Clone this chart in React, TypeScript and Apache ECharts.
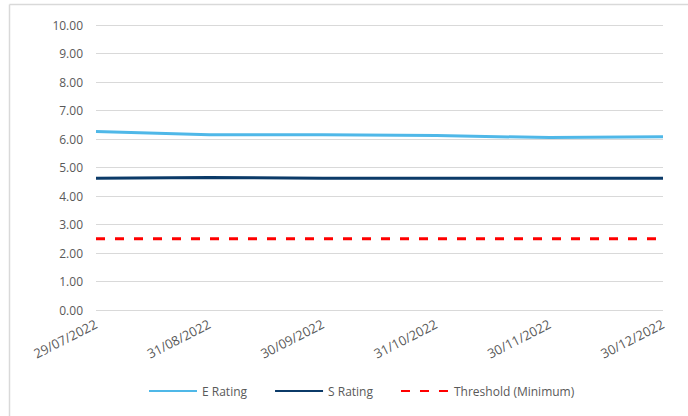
import React, { useEffect, useRef } from "react";
import * as echarts from "echarts";

const categories = ["29/07/2022", "31/08/2022", "30/09/2022", "31/10/2022", "30/11/2022", "30/12/2022"];
const eRating = [6.26, 6.15, 6.15, 6.12, 6.05, 6.08];
const sRating = [4.62, 4.65, 4.62, 4.62, 4.62, 4.62];
const threshold = [2.5, 2.5, 2.5, 2.5, 2.5, 2.5];

const FONT = "'Open Sans', 'Noto Sans', sans-serif";

export default function App() {
  const ref = useRef<HTMLDivElement>(null);
  useEffect(() => {
    if (!ref.current) return;
    const chart = echarts.init(ref.current, undefined, { renderer: "svg" });
    chart.setOption({
      animation: false,
      backgroundColor: "#ffffff",
      graphic: [
        { type: "line", shape: { x1: 9.5, y1: 4.5, x2: 688, y2: 4.5 }, style: { stroke: "#d9d9d9", lineWidth: 1.5 } },
        { type: "line", shape: { x1: 9.5, y1: 4.5, x2: 9.5, y2: 416 }, style: { stroke: "#d9d9d9", lineWidth: 1.5 } },
      ],
      grid: { left: 96, right: 25, top: 25, bottom: 106, containLabel: false },
      xAxis: {
        type: "category",
        data: categories,
        boundaryGap: false,
        axisLine: { show: false },
        axisTick: { show: false },
        axisLabel: { rotate: 27, color: "#595959", fontSize: 13, fontFamily: FONT, margin: 13, interval: 0 },
        splitLine: { show: false },
      },
      yAxis: {
        type: "value",
        min: 0,
        max: 10,
        interval: 1,
        axisLine: { show: false },
        axisTick: { show: false },
        axisLabel: { formatter: (v: number) => v.toFixed(2), color: "#595959", fontSize: 12, fontFamily: FONT, margin: 13 },
        splitLine: { lineStyle: { color: "#d9d9d9", width: 1 } },
      },
      legend: {
        bottom: 14,
        left: 143,
        itemWidth: 48,
        itemHeight: 10,
        itemGap: 27,
        itemStyle: { opacity: 0 },
        textStyle: { color: "#595959", fontSize: 12, fontFamily: FONT },
        data: ["E Rating", "S Rating", "Threshold (Minimum)"],
      },
      series: [
        { name: "E Rating", type: "line", data: eRating, symbol: "none", lineStyle: { color: "#4fb8e8", width: 3 }, itemStyle: { color: "#4fb8e8" } },
        { name: "S Rating", type: "line", data: sRating, symbol: "none", lineStyle: { color: "#0b3a68", width: 3 }, itemStyle: { color: "#0b3a68" } },
        { name: "Threshold (Minimum)", type: "line", data: threshold, symbol: "none", lineStyle: { color: "#ff0000", width: 3, type: [9, 10] }, itemStyle: { color: "#ff0000" } },
      ],
    });
    return () => chart.dispose();
  }, []);
  return <div ref={ref} style={{ position: "absolute", left: 0, top: 0, width: 688, height: 416 }} />;
}
